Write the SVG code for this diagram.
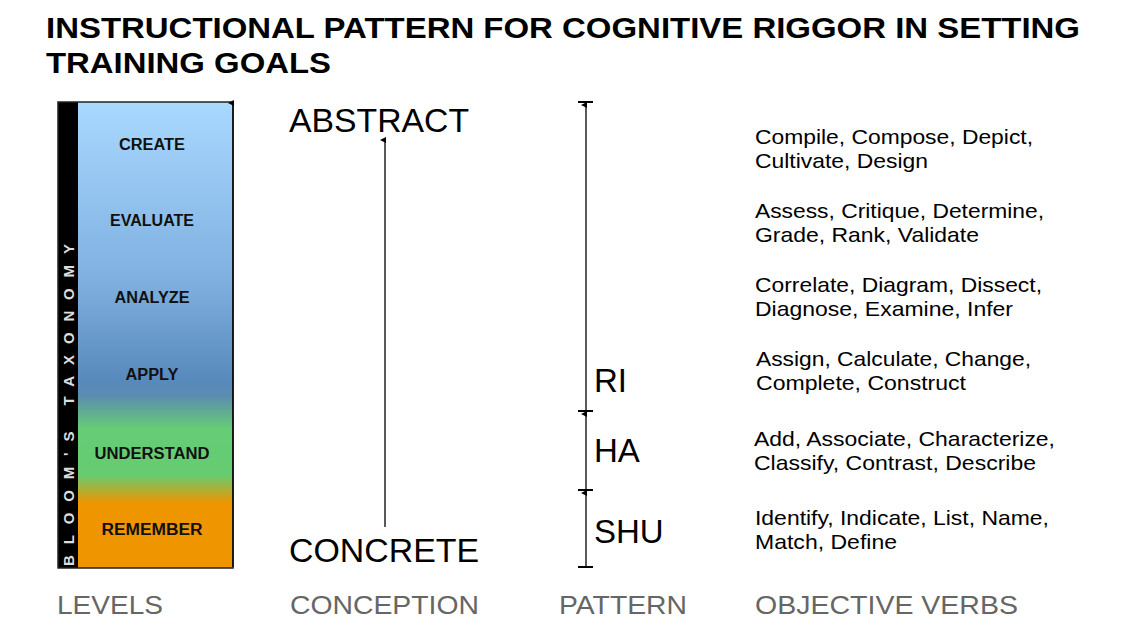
<svg xmlns="http://www.w3.org/2000/svg" width="1144" height="642" viewBox="0 0 1144 642">
<style>
text{font-family:"Liberation Sans",Arial,sans-serif}
.title{font-weight:bold;font-size:29px;fill:#000}
.lvl{font-weight:bold;font-size:16px;fill:#111;text-anchor:middle}
.big{font-size:33px;fill:#000}
.verb{font-size:21px;fill:#000}
.foot{font-size:25px;fill:#666}
.side{font-weight:bold;font-size:15px;fill:#ddd}
.ln{stroke:#000;stroke-width:1.3;fill:none}
.tick{stroke:#000;stroke-width:2}
</style>
<defs>
<linearGradient id="g" x1="0" y1="0" x2="0" y2="1">
<stop offset="0" stop-color="#a9d9ff"/>
<stop offset="0.38" stop-color="#7fb0e0"/>
<stop offset="0.6" stop-color="#5889bc"/>
<stop offset="0.63" stop-color="#5a8cb0"/>
<stop offset="0.7" stop-color="#66cc77"/>
<stop offset="0.8" stop-color="#66cc70"/>
<stop offset="0.86" stop-color="#ee9500"/>
<stop offset="1" stop-color="#ee9500"/>
</linearGradient>
<marker id="ah" markerWidth="6" markerHeight="6" refX="3" refY="5" orient="auto-start-reverse" markerUnits="userSpaceOnUse" viewBox="0 0 6 6">
<path d="M0,6 L3,0 L6,6 Z" fill="#000"/>
</marker>
</defs>
<g id="title">
<text class="title" x="46" y="38" textLength="1034" lengthAdjust="spacingAndGlyphs">INSTRUCTIONAL PATTERN FOR COGNITIVE RIGGOR IN SETTING</text>
<text class="title" x="46" y="73" textLength="285" lengthAdjust="spacingAndGlyphs">TRAINING GOALS</text>
</g>
<g id="levels">
<rect x="78" y="102" width="155" height="466" fill="url(#g)"/>
<rect x="58" y="102" width="20" height="466" fill="#000"/>
<rect x="58" y="102" width="175" height="466" fill="none" stroke="#222" stroke-width="1.5"/>
<text class="side" transform="translate(73.5,566) rotate(-90)" textLength="322" lengthAdjust="spacing">BLOOM'S TAXONOMY</text>
<text class="lvl" x="152" y="150" textLength="66" lengthAdjust="spacingAndGlyphs">CREATE</text>
<text class="lvl" x="152" y="226" textLength="84" lengthAdjust="spacingAndGlyphs">EVALUATE</text>
<text class="lvl" x="152" y="303" textLength="75" lengthAdjust="spacingAndGlyphs">ANALYZE</text>
<text class="lvl" x="152" y="380" textLength="53" lengthAdjust="spacingAndGlyphs">APPLY</text>
<text class="lvl" x="152" y="459" textLength="115" lengthAdjust="spacingAndGlyphs">UNDERSTAND</text>
<text class="lvl" x="152" y="535" textLength="101" lengthAdjust="spacingAndGlyphs">REMEMBER</text>
</g>
<g id="conception">
<text class="big" x="289" y="132" textLength="180" lengthAdjust="spacingAndGlyphs">ABSTRACT</text>
<text class="big" x="289" y="562" textLength="190" lengthAdjust="spacingAndGlyphs">CONCRETE</text>
</g>
<g id="pattern">
<text class="big" x="594" y="392">RI</text>
<text class="big" x="594" y="462">HA</text>
<text class="big" x="594" y="543">SHU</text>
</g>
<g id="verbs">
<text class="verb" x="755" y="144" textLength="278" lengthAdjust="spacingAndGlyphs">Compile, Compose, Depict,</text>
<text class="verb" x="755" y="168" textLength="173" lengthAdjust="spacingAndGlyphs">Cultivate, Design</text>
<text class="verb" x="755" y="218" textLength="289" lengthAdjust="spacingAndGlyphs">Assess, Critique, Determine,</text>
<text class="verb" x="755" y="242" textLength="224" lengthAdjust="spacingAndGlyphs">Grade, Rank, Validate</text>
<text class="verb" x="755" y="292" textLength="287" lengthAdjust="spacingAndGlyphs">Correlate, Diagram, Dissect,</text>
<text class="verb" x="755" y="316" textLength="258" lengthAdjust="spacingAndGlyphs">Diagnose, Examine, Infer</text>
<text class="verb" x="756" y="366" textLength="275" lengthAdjust="spacingAndGlyphs">Assign, Calculate, Change,</text>
<text class="verb" x="756" y="390" textLength="210" lengthAdjust="spacingAndGlyphs">Complete, Construct</text>
<text class="verb" x="754" y="446" textLength="301" lengthAdjust="spacingAndGlyphs">Add, Associate, Characterize,</text>
<text class="verb" x="754" y="470" textLength="282" lengthAdjust="spacingAndGlyphs">Classify, Contrast, Describe</text>
<text class="verb" x="755" y="525" textLength="294" lengthAdjust="spacingAndGlyphs">Identify, Indicate, List, Name,</text>
<text class="verb" x="755" y="549" textLength="142" lengthAdjust="spacingAndGlyphs">Match, Define</text>
</g>
<g id="footer">
<text class="foot" x="57" y="614" textLength="106" lengthAdjust="spacingAndGlyphs">LEVELS</text>
<text class="foot" x="290" y="614" textLength="189" lengthAdjust="spacingAndGlyphs">CONCEPTION</text>
<text class="foot" x="559" y="614" textLength="128" lengthAdjust="spacingAndGlyphs">PATTERN</text>
<text class="foot" x="755" y="614" textLength="263" lengthAdjust="spacingAndGlyphs">OBJECTIVE VERBS</text>
</g>
<g id="connectors">
<line class="ln" x1="233" y1="567" x2="233" y2="103" marker-end="url(#ah)"/>
<line class="ln" x1="385" y1="527" x2="385" y2="140" marker-end="url(#ah)"/>
<line class="ln" x1="586" y1="410" x2="586" y2="105" marker-end="url(#ah)"/>
<line class="ln" x1="586" y1="489" x2="586" y2="414" marker-end="url(#ah)"/>
<line class="ln" x1="586" y1="566" x2="586" y2="493" marker-end="url(#ah)"/>
<line class="tick" x1="578" y1="102" x2="593" y2="102"/>
<line class="tick" x1="578" y1="411" x2="593" y2="411"/>
<line class="tick" x1="578" y1="490" x2="593" y2="490"/>
<line class="tick" x1="578" y1="567" x2="593" y2="567"/>
</g>
</svg>
